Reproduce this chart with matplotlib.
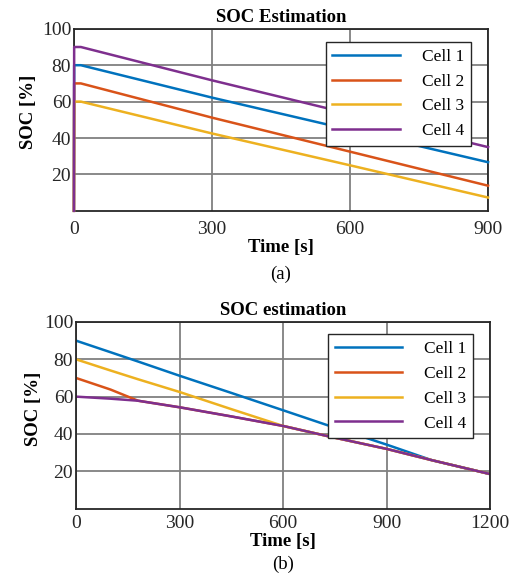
import matplotlib
matplotlib.use("Agg")
import matplotlib.pyplot as plt

plt.rcParams["font.family"] = ["Liberation Serif", "DejaVu Serif"]

# --- data ---
cells = ["Cell 1", "Cell 2", "Cell 3", "Cell 4"]
colors = ["#0072BD", "#D95319", "#EDB120", "#7E2F8E"]

# (a) 900 s run
time_a = [0, 0.5, 15, 300, 600, 900]
soc_a_cell1 = [0, 80, 80, 62.2, 44.5, 26.7]
soc_a_cell2 = [0, 70, 70, 51.2, 32.5, 13.8]
soc_a_cell3 = [0, 60, 60, 42.5, 25.0, 7.3]
soc_a_cell4 = [0, 90, 90, 71.7, 53.3, 35.0]

# (b) 1200 s run
time_b = [0, 100, 180, 300, 450, 600, 730, 900, 1030, 1200]
soc_b_cell1 = [90, 83.8, 78.8, 71.2, 62.0, 52.7, 44.6, 34.3, 26.0, 18.5]
soc_b_cell2 = [70, 63.8, 57.8, 54.3, 49.4, 44.3, 38.8, 32.0, 26.0, 18.5]
soc_b_cell3 = [80, 74.0, 69.3, 62.5, 53.3, 44.3, 38.8, 32.0, 26.0, 18.5]
soc_b_cell4 = [60, 58.9, 57.8, 54.3, 49.4, 44.3, 38.8, 32.0, 26.0, 18.5]

xticks_a = [0, 300, 600, 900]
xticks_b = [0, 300, 600, 900, 1200]
yticks = [20, 40, 60, 80, 100]


def style_axes(ax, title, xticks, xmax, tag, xpad, tag_y, ylab_xy, leg_anchor):
    ax.set_xlim(0, xmax)
    ax.set_ylim(0, 100)
    ax.set_xticks(xticks)
    ax.set_yticks(yticks)
    ax.grid(True, color="#808080", linewidth=1.3)
    ax.set_axisbelow(True)
    for s in ax.spines.values():
        s.set_color("#262626")
        s.set_linewidth(1.3)
    ax.tick_params(direction="in", length=0, labelsize=14, colors="#262626")
    ax.tick_params(axis="x", pad=xpad)
    ax.tick_params(axis="y", pad=2)
    ax.set_title(title, fontsize=13.5, fontweight="bold", pad=5)
    ax.set_xlabel("Time [s]", fontsize=13.5, fontweight="bold", labelpad=1)
    ax.set_ylabel("SOC [%]", fontsize=13.5, fontweight="bold")
    ax.yaxis.set_label_coords(*ylab_xy)
    ax.text(0.5, tag_y, tag, transform=ax.transAxes, ha="center", va="center",
            fontsize=13.5)
    leg = ax.legend(loc="upper right", bbox_to_anchor=leg_anchor, borderaxespad=0,
                    fontsize=12.5, fancybox=False, framealpha=1, edgecolor="#262626",
                    handlelength=3.9, handletextpad=1.25, borderpad=0.4,
                    labelspacing=0.5)
    leg.get_frame().set_linewidth(1.0)


fig = plt.figure(figsize=(5.17, 5.76), dpi=100)

ax1 = fig.add_axes([0.143, 0.634, 0.801, 0.316])
for soc, lab, c in zip([soc_a_cell1, soc_a_cell2, soc_a_cell3, soc_a_cell4], cells, colors):
    ax1.plot(time_a, soc, color=c, linewidth=1.8, label=lab, clip_on=False, zorder=3)
style_axes(ax1, "SOC Estimation", xticks_a, 900, "(a)", 7, -0.35,
           (-0.089, 0.544), (0.959, 0.929))

ax2 = fig.add_axes([0.147, 0.117, 0.801, 0.324])
for soc, lab, c in zip([soc_b_cell1, soc_b_cell2, soc_b_cell3, soc_b_cell4], cells, colors):
    ax2.plot(time_b, soc, color=c, linewidth=1.8, label=lab)
style_axes(ax2, "SOC estimation", xticks_b, 1200, "(b)", 4.5, -0.297,
           (-0.082, 0.534), (0.959, 0.936))

plt.savefig("out.png", dpi=100)
